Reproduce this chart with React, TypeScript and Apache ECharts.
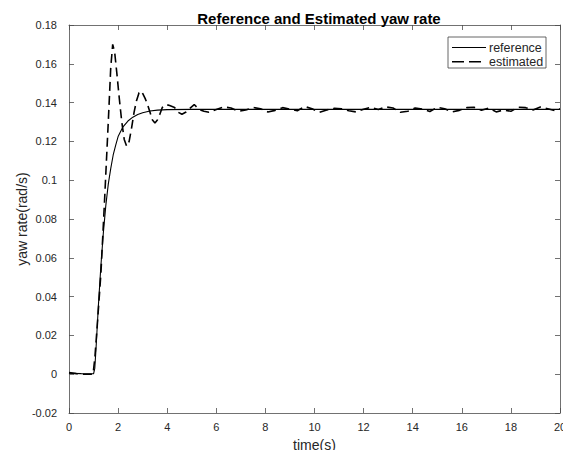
import React, { useEffect, useRef } from "react";
import * as echarts from "echarts";

const titleText = "Reference and Estimated yaw rate";
const xName = "time(s)";
const yName = "yaw rate(rad/s)";
const seriesNames = ["reference", "estimated"];

const refTime = [0, 0.5, 1.0, 1.05, 1.1, 1.2, 1.3, 1.4, 1.5, 1.6, 1.7, 1.8, 1.9, 2.0, 2.2, 2.4, 2.6, 2.8, 3.0, 3.3, 3.6, 4.0, 5.0, 6.0, 8.0, 10, 12, 14, 16, 18, 20];
const refValue = [0.0005, 0.0003, 0.0002, 0.003, 0.013, 0.036, 0.056, 0.073, 0.087, 0.098, 0.106, 0.113, 0.118, 0.1225, 0.1275, 0.1305, 0.1325, 0.1339, 0.1348, 0.1357, 0.1361, 0.1364, 0.1365, 0.1365, 0.1365, 0.1365, 0.1365, 0.1365, 0.1365, 0.1365, 0.1365];

const estTime = [0, 0.3, 0.6, 0.98, 1.05, 1.15, 1.3, 1.45, 1.6, 1.7, 1.78, 1.86, 1.95, 2.05, 2.15, 2.25, 2.35, 2.45, 2.55, 2.65, 2.75, 2.85, 2.93, 3.0, 3.1, 3.2, 3.3, 3.4, 3.5, 3.6, 3.7, 3.8, 3.95, 4.1, 4.3, 4.45, 4.6, 4.75, 4.9, 5.1, 5.3, 5.5, 5.7,
  6.0, 6.3, 6.6, 6.9, 7.2, 7.5, 7.8, 8.1, 8.4, 8.7, 9.0, 9.3, 9.6, 9.9, 10.2, 10.5, 10.8, 11.1, 11.4, 11.7, 12.0, 12.3, 12.6, 12.9, 13.2, 13.5, 13.8, 14.1, 14.4, 14.7, 15.0, 15.3, 15.6, 15.9, 16.2, 16.5, 16.8, 17.1, 17.4, 17.7, 18.0, 18.3, 18.6, 18.9, 19.2, 19.5, 19.8, 20];
const estValue = [0.0008, 0.0003, 0.0, 0.0, 0.008, 0.025, 0.052, 0.09, 0.13, 0.158, 0.17, 0.166, 0.155, 0.142, 0.13, 0.121, 0.1175, 0.12, 0.127, 0.135, 0.141, 0.145, 0.146, 0.1447, 0.1422, 0.139, 0.135, 0.131, 0.1295, 0.131, 0.134, 0.1375, 0.139, 0.1385, 0.1375, 0.135, 0.134, 0.135, 0.1368, 0.139, 0.1365, 0.1355, 0.135,
  0.1365, 0.1378, 0.1372, 0.1355, 0.1362, 0.1375, 0.1368, 0.1352, 0.136, 0.1374, 0.1366, 0.1358, 0.138, 0.1368, 0.135, 0.1362, 0.137, 0.1368, 0.1358, 0.1352, 0.1366, 0.1376, 0.1364, 0.1378, 0.1372, 0.135, 0.1355, 0.1372, 0.1366, 0.1354, 0.1376, 0.1368, 0.1352, 0.136, 0.1374, 0.1376, 0.136, 0.1372, 0.1352, 0.1362, 0.1355, 0.1376, 0.1374, 0.1362, 0.1377, 0.1368, 0.1358, 0.1368];

const xMin = 0, xMax = 20, xStep = 2;
const yMin = -0.02, yMax = 0.18, yStep = 0.02;

const FONT = "Helvetica, 'Liberation Sans', Arial, sans-serif";
const AX = "#4d4d4d";
const TXT = "#262626";
const DASH = [9, 5];

export default function App() {
  const ref = useRef<HTMLDivElement>(null);
  useEffect(() => {
    const chart = echarts.init(ref.current!, null, { renderer: "svg" });
    const tickCommon = { show: true, inside: true, length: 5, lineStyle: { color: AX, width: 0.8 } };
    const lineCommon = { show: true, onZero: false, lineStyle: { color: AX, width: 0.8 } };
    const lgX = 448, lgY = 37, lgW = 98, lgH = 31;
    const rowY = [lgY + 10.5, lgY + 24.8];
    chart.setOption({
      animation: false,
      backgroundColor: "#fff",
      textStyle: { fontFamily: FONT },
      title: {
        text: titleText,
        left: 314,
        textAlign: "center",
        top: 6,
        textStyle: { fontFamily: FONT, fontSize: 15, fontWeight: "bold", color: "#000" },
      },
      grid: { left: 69, right: 11, top: 25, bottom: 45 },
      graphic: [
        {
          type: "rect", z: 100,
          shape: { x: lgX, y: lgY, width: lgW, height: lgH },
          style: { fill: "#fff", stroke: "#404040", lineWidth: 0.8 },
        },
        {
          type: "line", z: 101,
          shape: { x1: lgX + 4, y1: rowY[0], x2: lgX + 38, y2: rowY[0] },
          style: { stroke: "#000", lineWidth: 1.1 },
        },
        {
          type: "line", z: 101,
          shape: { x1: lgX + 4, y1: rowY[1], x2: lgX + 38, y2: rowY[1] },
          style: { stroke: "#000", lineWidth: 1.6, lineDash: [12, 5] },
        },
        {
          type: "text", z: 101, x: lgX + 41, y: rowY[0],
          style: { text: seriesNames[0], fontFamily: FONT, fontSize: 12.5, fill: TXT, verticalAlign: "middle" },
        },
        {
          type: "text", z: 101, x: lgX + 41, y: rowY[1],
          style: { text: seriesNames[1], fontFamily: FONT, fontSize: 12.5, fill: TXT, verticalAlign: "middle" },
        },
      ],
      xAxis: [
        {
          type: "value", min: xMin, max: xMax, interval: xStep, position: "bottom",
          name: xName, nameLocation: "middle", nameGap: 25, nameMoveOverlap: false,
          nameTextStyle: { fontFamily: FONT, fontSize: 14, color: TXT },
          axisLine: lineCommon, axisTick: tickCommon,
          axisLabel: { fontFamily: FONT, fontSize: 11, color: TXT, margin: 8 },
          splitLine: { show: false },
        },
        {
          type: "value", min: xMin, max: xMax, interval: xStep, position: "top",
          axisLine: lineCommon, axisTick: tickCommon, axisLabel: { show: false }, splitLine: { show: false },
        },
      ],
      yAxis: [
        {
          type: "value", min: yMin, max: yMax, interval: yStep, position: "left",
          name: yName, nameLocation: "middle", nameGap: 40, nameMoveOverlap: false,
          nameTextStyle: { fontFamily: FONT, fontSize: 14, color: TXT },
          axisLine: lineCommon, axisTick: tickCommon,
          axisLabel: {
            fontFamily: FONT, fontSize: 11, color: TXT, margin: 12,
            formatter: (v: number) => String(parseFloat(v.toFixed(2))),
          },
          splitLine: { show: false },
        },
        {
          type: "value", min: yMin, max: yMax, interval: yStep, position: "right",
          axisLine: lineCommon, axisTick: tickCommon, axisLabel: { show: false }, splitLine: { show: false },
        },
      ],
      series: [
        {
          name: seriesNames[0], type: "line", symbol: "none", showSymbol: false,
          data: refTime.map((t, i) => [t, refValue[i]]),
          lineStyle: { color: "#000", width: 1.1, type: "solid" },
          itemStyle: { color: "#000" },
        },
        {
          name: seriesNames[1], type: "line", symbol: "none", showSymbol: false,
          data: estTime.map((t, i) => [t, estValue[i]]),
          lineStyle: { color: "#000", width: 1.6, type: DASH },
          itemStyle: { color: "#000" },
        },
      ],
    });
    return () => chart.dispose();
  }, []);
  return <div ref={ref} style={{ width: 571, height: 458, margin: -8 }} />;
}
